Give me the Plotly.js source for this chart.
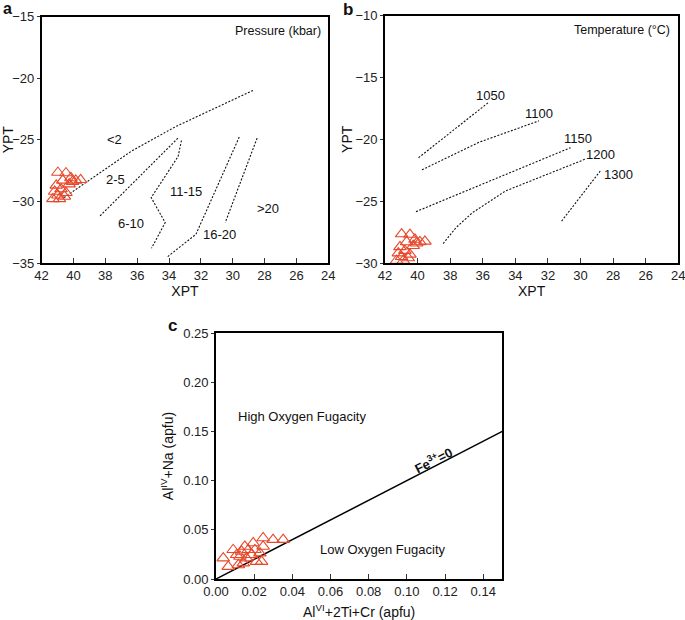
<!DOCTYPE html>
<html><head><meta charset="utf-8">
<script src="https://cdn.plot.ly/plotly-3.0.1.min.js"></script>
<style>html,body{margin:0;padding:0;background:#fff}</style>
</head><body>
<div id="chart" style="width:685px;height:620px"></div>
<script>
// Sample data (same XPT for panels a & b)
const xpt = [40.98,40.47,39.55,40.16,40.67,41.08,40.27,40.78,41.18,40.47,40.98,41.29,40.88,40.57,40.06,39.86];
const ypt = [-27.66,-27.7,-28.25,-28.1,-28.3,-28.7,-28.6,-29.0,-29.2,-29.3,-29.5,-29.8,-29.8,-29.6,-28.4,-28.3];

// Panel c data
const alviTiCr = [0.0038,0.0090,0.0064,0.0125,0.0117,0.0151,0.0160,0.0186,0.0195,0.0230,0.0239,0.0247,0.0247,0.0299,0.0352,0.0169,0.0108,0.0143,0.0212,0.0204,0.0134];
const alivNa  = [0.0212,0.0297,0.0126,0.0229,0.0143,0.0331,0.0212,0.0246,0.0366,0.0263,0.0177,0.0417,0.0331,0.0400,0.0400,0.0297,0.0246,0.0161,0.0177,0.0297,0.0280];

// Pressure boundaries (panel a)
const pLine1X = [40.6,36.39,33.53,28.73]; const pLine1Y = [-29.7,-25.95,-23.9,-21.0];
const pLine2X = [38.33,33.37]; const pLine2Y = [-31.18,-24.78];
const pLine3X = [33.22,33.43,35.12,34.24,35.10]; const pLine3Y = [-25.06,-26.36,-29.69,-31.72,-33.8];
const pLine4X = [29.59,32.31,34.14]; const pLine4Y = [-24.78,-32.67,-34.54];
const pLine5X = [28.47,30.47]; const pLine5Y = [-24.87,-31.72];
const pLabels = ['<2','2-5','6-10','11-15','16-20','>20'];
const pLabelX = [37.41,37.37,36.39,32.96,30.84,27.78];
const pLabelY = [-24.95,-28.25,-31.77,-29.2,-32.72,-30.55];

// Temperature isotherms (panel b)
const t1050X = [39.94,35.67]; const t1050Y = [-21.49,-17.05];
const t1100X = [39.73,36.22,32.55]; const t1100Y = [-22.47,-20.24,-18.51];
const t1150X = [40.10,30.61]; const t1150Y = [-25.85,-20.68];
const t1200X = [38.43,37.65,36.63,34.59,29.69]; const t1200Y = [-28.43,-27.15,-25.93,-24.17,-21.6];
const t1300X = [31.16,28.78]; const t1300Y = [-26.61,-22.55];
const tLabels = ['1050','1100','1150','1200','1300'];
const tLabelX = [35.51,32.55,30.14,28.78,27.65];
const tLabelY = [-16.45,-17.89,-19.97,-21.27,-22.87];

// Fe3+=0 reference line (panel c)
const feLineX = [0,0.15]; const feLineY = [0,0.15];

const red = '#e8472a';
const FONT = 'Liberation Sans, Arial, sans-serif';
const mk = {symbol:'triangle-up-open', size:11, color:red, line:{width:1.1, color:red}};
const dotted = {color:'#111', width:1.1, dash:'2px,1.6px'};

function dl(x,y,xa,ya){return {x:x,y:y,xaxis:xa,yaxis:ya,mode:'lines',line:dotted,hoverinfo:'skip',showlegend:false};}

const traces = [
  dl(pLine1X,pLine1Y,'x','y'), dl(pLine2X,pLine2Y,'x','y'), dl(pLine3X,pLine3Y,'x','y'),
  dl(pLine4X,pLine4Y,'x','y'), dl(pLine5X,pLine5Y,'x','y'),
  {x:xpt,y:ypt,xaxis:'x',yaxis:'y',mode:'markers',marker:mk,showlegend:false},
  dl(t1050X,t1050Y,'x2','y2'), dl(t1100X,t1100Y,'x2','y2'), dl(t1150X,t1150Y,'x2','y2'),
  dl(t1200X,t1200Y,'x2','y2'), dl(t1300X,t1300Y,'x2','y2'),
  {x:xpt,y:ypt,xaxis:'x2',yaxis:'y2',mode:'markers',marker:mk,showlegend:false,cliponaxis:false},
  {x:feLineX,y:feLineY,xaxis:'x3',yaxis:'y3',mode:'lines',line:{color:'#000',width:1.5},showlegend:false},
  {x:alviTiCr,y:alivNa,xaxis:'x3',yaxis:'y3',mode:'markers',marker:mk,showlegend:false}
];

const axBase = {showline:true, linecolor:'#000', linewidth:1.8, mirror:true, showgrid:false, zeroline:false,
  tickfont:{family:FONT,size:13,color:'#222'}, tickcolor:'#333', ticklabeloverflow:'allow'};
function xa(o){return Object.assign({},axBase,{ticks:'inside',ticklen:5,tickwidth:1},o);}
function ya(o){return Object.assign({},axBase,{ticks:'outside',ticklen:3,tickwidth:1},o);}

const xTicks = [42,40,38,36,34,32,30,28,26,24];
const tf = {family:FONT,size:14,color:'#111'};

const annotations = [];
pLabels.forEach((t,i)=>annotations.push({x:pLabelX[i],y:pLabelY[i],xref:'x',yref:'y',text:t,showarrow:false,font:{family:FONT,size:13,color:'#111'}}));
tLabels.forEach((t,i)=>annotations.push({x:tLabelX[i],y:tLabelY[i],xref:'x2',yref:'y2',text:t,showarrow:false,font:{family:FONT,size:13,color:'#111'}}));
function pa(x,y,text,size,xanchor){return {x:x/685,y:1-y/620,xref:'paper',yref:'paper',xanchor:xanchor||'center',yanchor:'middle',text:text,showarrow:false,font:{family:FONT,size:size,color:'#111'}};}
annotations.push(
  pa(322.5,31.5,'Pressure (kbar)',12.5,'right'),
  pa(671.5,30,'Temperature (°C)',12.5,'right'),
  pa(8,8,'<b>a</b>',16), pa(348,9,'<b>b</b>',17), pa(172,325,'<b>c</b>',17),
  {x:0.0453,y:0.165,xref:'x3',yref:'y3',text:'High Oxygen Fugacity',showarrow:false,font:{family:FONT,size:13,color:'#111'}},
  {x:0.0877,y:0.0297,xref:'x3',yref:'y3',text:'Low Oxygen Fugacity',showarrow:false,font:{family:FONT,size:13,color:'#111'}},
  {x:0.1135,y:0.121,xref:'x3',yref:'y3',text:'<b>Fe<sup>3+</sup>=0</b>',textangle:-27,showarrow:false,font:{family:FONT,size:13,color:'#111'}}
);

const layout = {
  width:685, height:620, margin:{l:0,r:0,t:0,b:0}, paper_bgcolor:'#fff', plot_bgcolor:'#fff',
  showlegend:false, font:{family:FONT,color:'#111'},
  xaxis: xa({domain:[41.6/685,328.3/685], anchor:'y', range:[42,24], tickvals:xTicks,
    title:{text:'XPT',font:tf,standoff:0}}),
  yaxis: ya({domain:[1-263/620,1-16.5/620], anchor:'x', range:[-35,-15], tickvals:[-15,-20,-25,-30,-35],
    title:{text:'YPT',font:tf,standoff:4}}),
  xaxis2: xa({domain:[385/685,678.3/685], anchor:'y2', range:[42,24], tickvals:xTicks,
    title:{text:'XPT',font:tf,standoff:0}}),
  yaxis2: ya({domain:[1-263/620,1-15.5/620], anchor:'x2', range:[-30,-10], tickvals:[-10,-15,-20,-25,-30],
    title:{text:'YPT',font:tf,standoff:0}}),
  xaxis3: xa({domain:[216/685,502.3/685], anchor:'y3', range:[0,0.15], tickvals:[0,0.02,0.04,0.06,0.08,0.10,0.12,0.14], tickformat:'.2f',
    title:{text:'Al<sup>VI</sup>+2Ti+Cr (apfu)',font:tf,standoff:9}}),
  yaxis3: ya({domain:[1-579/620,1-333/620], anchor:'x3', range:[0,0.25], tickvals:[0,0.05,0.10,0.15,0.20,0.25], tickformat:'.2f',
    title:{text:'Al<sup>IV</sup>+Na (apfu)',font:tf,standoff:6}}),
  annotations: annotations
};

Plotly.newPlot('chart', traces, layout, {staticPlot:true, displayModeBar:false});
</script>
</body></html>
